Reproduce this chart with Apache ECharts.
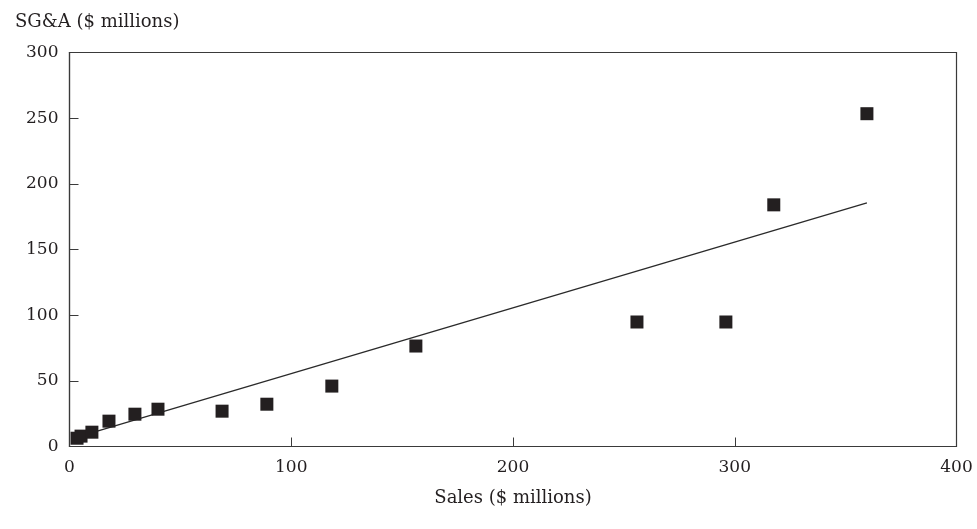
<!DOCTYPE html>
<html>
<head>
<meta charset="utf-8">
<script src="https://cdn.jsdelivr.net/npm/echarts@6/dist/echarts.min.js"></script>
<style>
  html, body { margin: 0; padding: 0; background: #fff; }
  #chart { width: 977px; height: 529px; }
</style>
</head>
<body>
<div id="chart"></div>
<script>
// Sales vs. SG&A, $ millions
const sales = [3.4, 5.2, 10.1, 17.8, 29.5, 39.9, 68.8, 89.0, 118.3, 156.2, 255.9, 296.0, 317.6, 359.6];
const sga   = [6.3, 7.9, 10.9, 19.3, 24.6, 28.4, 26.9, 32.2, 46.0, 76.5, 94.8, 94.8, 184.0, 253.4];

// Fitted trend line: SG&A = intercept + slope * Sales
const trendIntercept = 5.4;
const trendSlope = 0.501;

const xTicks = [0, 100, 200, 300, 400];
const yTicks = [0, 50, 100, 150, 200, 250, 300];

const points = sales.map((s, i) => [s, sga[i]]);
const xMin = Math.min(...sales), xMax = Math.max(...sales);
const trend = [xMin, xMax].map(x => [x, trendIntercept + trendSlope * x]);

const ink = '#231f20';
const font = 'DejaVu Serif';

const chart = echarts.init(document.getElementById('chart'), null, { renderer: 'canvas' });
chart.setOption({
  animation: false,
  backgroundColor: '#fff',
  grid: {
    left: 69.5, right: 20.5, top: 52.5, bottom: 82.5,
    show: true, borderColor: '#3a3a3a', borderWidth: 1.2, backgroundColor: 'transparent'
  },
  title: [
    { text: 'SG&A ($ millions)', left: 10, top: 8,
      textStyle: { fontFamily: font, fontSize: 18, fontWeight: 'normal', color: ink } }
  ],
  xAxis: {
    type: 'value', min: xTicks[0], max: xTicks[xTicks.length - 1], interval: 100,
    name: 'Sales ($ millions)', nameLocation: 'middle', nameGap: 43,
    nameTextStyle: { fontFamily: font, fontSize: 18, color: ink },
    axisLine: { show: true, onZero: false, lineStyle: { color: '#3a3a3a', width: 1.2 } },
    axisTick: { show: true, inside: true, length: 9, lineStyle: { color: '#3a3a3a', width: 1 } },
    axisLabel: { margin: 13, fontFamily: font, fontSize: 17, color: ink },
    splitLine: { show: false }
  },
  yAxis: {
    type: 'value', min: yTicks[0], max: yTicks[yTicks.length - 1], interval: 50,
    axisLine: { show: true, onZero: false, lineStyle: { color: '#3a3a3a', width: 1.2 } },
    axisTick: { show: true, inside: true, length: 9, lineStyle: { color: '#3a3a3a', width: 1 } },
    axisLabel: { margin: 11, fontFamily: font, fontSize: 17, color: ink },
    splitLine: { show: false }
  },
  series: [
    {
      type: 'line', data: trend, symbol: 'none', silent: true,
      lineStyle: { color: '#2a2a2a', width: 1.3 }, z: 2
    },
    {
      type: 'scatter', data: points, symbol: 'rect', symbolSize: 13,
      itemStyle: { color: ink, opacity: 1 }, z: 3
    }
  ]
});
</script>
</body>
</html>
